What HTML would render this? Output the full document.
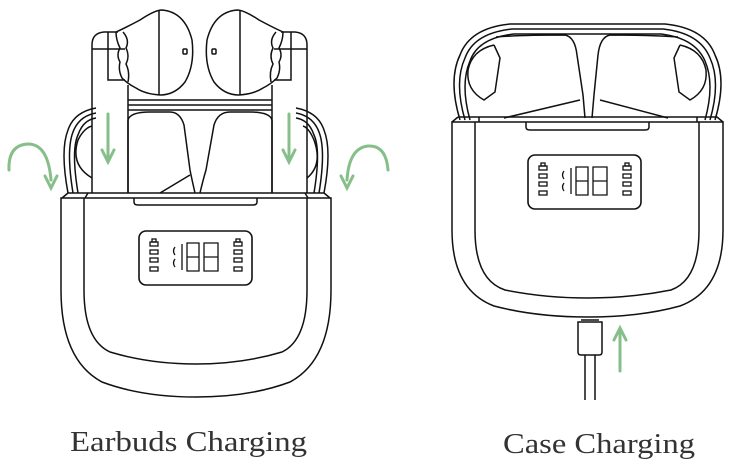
<!DOCTYPE html>
<html><head><meta charset="utf-8"><style>
html,body{margin:0;padding:0;background:#fff;width:731px;height:469px;overflow:hidden}
svg{display:block}
text{font-family:"Liberation Serif",serif;fill:#333}
</style></head><body>
<svg width="731" height="469" viewBox="0 0 731 469" xmlns="http://www.w3.org/2000/svg">
<defs>
<g id="screen">
  <rect x="0" y="0" width="113" height="54" rx="7" fill="none" stroke="#111" stroke-width="1.6"/>
  <g fill="none" stroke="#111" stroke-width="1.3">
    <rect x="11" y="11" width="8" height="4"/><rect x="13" y="8" width="4" height="3"/>
    <rect x="11" y="19" width="8" height="4"/><rect x="11" y="27" width="8" height="4"/><rect x="11" y="36" width="8" height="4"/>
    <rect x="95" y="11" width="8" height="4"/><rect x="97" y="8" width="4" height="3"/>
    <rect x="95" y="19" width="8" height="4"/><rect x="95" y="27" width="8" height="4"/><rect x="95" y="36" width="8" height="4"/>
    <path d="M36 16 q-3 4 0 8 M36 28 q-3 4 0 8"/>
    <path d="M43 13 v26 M48 12 h12 v28 h-12 z M48 26 h12 M65 12 h14 v28 h-14 z M65 26 h14"/>
  </g>
</g>
</defs>

<g fill="none" stroke="#111" stroke-width="1.5">
  <path d="M68 193 Q60 150 68 130 Q74 112 96 108"/>
  <path d="M73 193 Q66 150 73 132 Q79 116 96 113"/>
  <path d="M78 193 Q71 150 78 135 Q83 120 96 118"/>
  <path d="M92 178 Q70 165 78 140 Q84 128 92 126"/>
  <path d="M324 193 Q332 150 324 130 Q318 112 296 108"/>
  <path d="M319 193 Q326 150 319 132 Q313 116 296 113"/>
  <path d="M314 193 Q321 150 314 135 Q309 120 296 118"/>
  <path d="M307 178 Q323 165 314 140 Q309 128 303 126"/>
  <path d="M128 100 H272 M128 105 H272 M128 110 H272"/>
  <path d="M128 193 V120 Q130 112 150 112 L170 112 Q180 112 184 125 L190 170 Q192 180 195 193"/>
  <path d="M160 193 L190 175"/>
  <path d="M272 193 V120 Q270 112 250 112 L230 112 Q218 112 214 125 L206 170 Q203 180 200 193"/>
  <path d="M92 193 V45 Q92 33 104 32 H118"/>
  <path d="M128 193 V85"/>
  <path d="M92 49 H125"/>
  <path d="M108 32 V80 H125"/>
  <path d="M307 193 V45 Q307 33 295 32 H281"/>
  <path d="M272 193 V85"/>
  <path d="M307 49 H274"/>
  <path d="M291 32 V80 H274"/>
  <path d="M116 32 Q125 28 140 20 Q155 10 162 10 Q185 12 192 40 Q195 65 185 82 Q175 95 160 95 Q145 94 136 88 Q128 84 122 78 Q118 70 120 62 Q116 55 120 48 Q116 40 116 32 Z"/>
  <path d="M123 32 Q130 40 126 48 Q130 56 126 64 Q130 72 128 82"/>
  <path d="M159 11 V95"/>
  <rect x="183" y="49" width="4" height="5" rx="1"/>
  <path d="M283 32 Q274 28 259 20 Q244 10 237 10 Q214 12 207 40 Q204 65 214 82 Q224 95 239 95 Q254 94 263 88 Q271 84 277 78 Q281 70 279 62 Q283 55 279 48 Q283 40 283 32 Z"/>
  <path d="M276 32 Q269 40 273 48 Q269 56 273 64 Q269 72 271 82"/>
  <path d="M240 11 V95"/>
  <rect x="212" y="49" width="4" height="5" rx="1"/>
  <path d="M68 193 L62 198 M88 193 L85 198 M324 193 L330 198 M305 193 L308 198 M68 193 H324"/>
  <path d="M61 198 H331 V290 Q331 360 290 382 Q250 397 196 397 Q142 397 102 382 Q61 360 61 290 Z"/>
  <path d="M84 198 V290 Q84 340 110 352 Q150 364 196 364 Q242 364 282 352 Q307 340 307 290 V198"/>
  <path d="M134 198 V202 Q134 205 138 205 H253 Q257 205 257 202 V198"/>
</g>
<use href="#screen" x="139" y="231"/>

<g fill="none" stroke="#86bf8a" stroke-width="3" stroke-linecap="round">
  <path d="M108 114 V160"/><path d="M102 150 L108 162 L114 150"/>
  <path d="M289 114 V160"/><path d="M283 150 L289 162 L295 150"/>
  <path d="M9 170 Q8 145 28 144 Q48 144 51 180"/><path d="M45 176 L51 188 L57 176"/>
  <path d="M388 170 Q386 145 368 146 Q349 148 347 180"/><path d="M341 176 L347 188 L353 176"/>
</g>

<g fill="none" stroke="#111" stroke-width="1.5">
  <path d="M460 120 Q448 80 460 55 Q470 28 510 24 H665 Q705 28 715 55 Q727 80 715 120"/>
  <path d="M465 120 Q454 82 465 58 Q474 33 512 29 H663 Q700 33 710 58 Q721 82 710 120"/>
  <path d="M470 120 Q460 84 470 61 Q478 38 514 34 H661 Q695 38 705 61 Q715 84 705 120"/>
  <path d="M494 45 L500 58 L495 92 L484 100 Q466 90 468 70 Q472 50 494 45"/>
  <path d="M504 118 L580 100 M496 37 Q520 35 565 35 Q575 37 577 55 L583 95 L585 118"/>
  <path d="M680 45 L674 58 L679 92 L690 100 Q708 90 706 70 Q702 50 680 45"/>
  <path d="M668 118 L600 100 M678 37 Q650 35 610 35 Q600 37 598 55 L594 95 L592 118"/>
  <path d="M458 117 H717 L723 122 M458 117 L452 122 M479 117 V122 M697 117 V122"/>
  <path d="M452 122 H723 V230 Q723 290 680 306 Q640 317 588 317 Q536 317 494 306 Q452 290 452 230 Z"/>
  <path d="M475 122 V230 Q475 280 505 290 Q545 298 588 298 Q631 298 671 290 Q699 280 699 230 V122"/>
  <path d="M526 122 V127 Q526 130 530 130 H645 Q649 130 649 127 V122"/>
  <path d="M581 320 H599 M578 322 H602 V352 Q602 355 599 355 H581 Q578 355 578 352 Z"/>
  <path d="M585 355 V400 M595 355 V400"/>
</g>
<use href="#screen" x="528" y="155"/>
<g fill="none" stroke="#86bf8a" stroke-width="3" stroke-linecap="round">
  <path d="M620 330 V371"/><path d="M614 340 L620 328 L626 340"/>
</g>

<text x="70" y="451" font-size="29" textLength="237" lengthAdjust="spacingAndGlyphs">Earbuds Charging</text>
<text x="503" y="453" font-size="29" textLength="192" lengthAdjust="spacingAndGlyphs">Case Charging</text>
</svg>
</body></html>
